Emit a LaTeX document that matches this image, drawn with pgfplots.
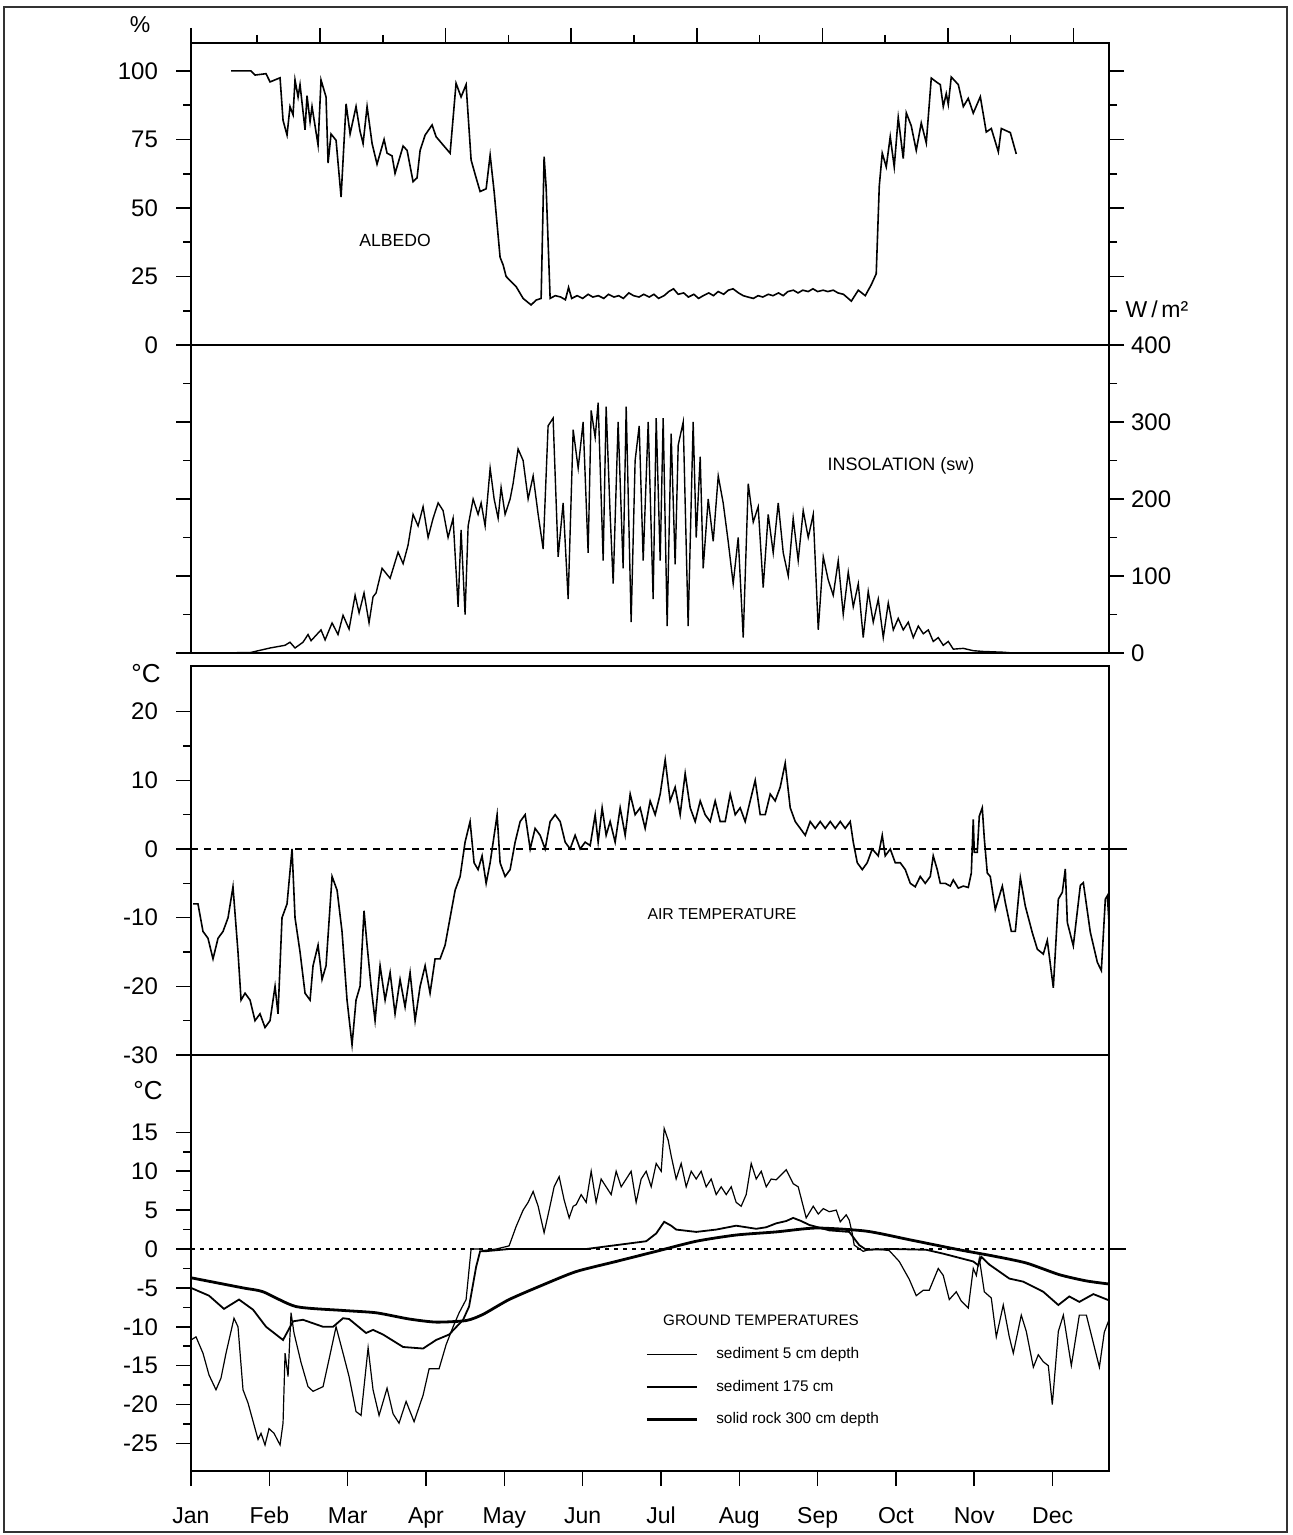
\documentclass[border=0pt]{standalone}
\usepackage{pgfplots}
\pgfplotsset{compat=1.18}
\usepackage{fontspec}
\setmainfont{Liberation Sans}
\def\u{0.5pt}
\pgfplotsset{
  panel/.style={
    scale only axis, width=459pt, xmin=0, xmax=11.72, anchor=north west,
    axis line style={line width=1pt}, clip=false,
    tick style={line width=0.8pt, black}, tick align=outside,
    major tick length=7.5pt, minor tick length=4pt,
    /pgf/number format/assume math mode=true,
    ticklabel style={font=\fontsize{12}{14}\selectfont},
  },
  leftlab/.style={yticklabel style={xshift=-5.5pt}},
}
\begin{document}
\begin{tikzpicture}
\path[use as bounding box] (0,0) rectangle (1292*\u,-1535*\u);
\draw[line width=0.8pt, black!80] (4*\u,-7*\u) rectangle (1287*\u,-1532*\u);

% ---------------- Panel 1: Albedo
\begin{axis}[panel, leftlab, at={(191*\u,-43*\u)}, height=151pt, ymin=0, ymax=110.2,
  xtick={0,1.648,3.251,4.854,6.457,8.060,9.663,11.266},
  minor xtick={0.846,2.449,4.052,5.655,7.258,8.861,10.464},
  xtick pos=right, xticklabels={},
  ytick={0,25,50,75,100}, minor y tick num=1, ytick pos=both, yticklabel pos=left]
\addplot[line width=0.8pt, black] coordinates {
(0.511,100)(0.766,100)(0.817,98.5)(0.958,99)(1.009,96)(1.137,97.5)(1.175,82)(1.226,76.6)
(1.264,87)(1.303,84)(1.328,96.7)(1.367,90.5)(1.392,95)(1.456,78.5)(1.481,91)(1.520,81.5)
(1.545,87)(1.622,73)(1.660,96.7)(1.724,90.5)(1.750,66.4)(1.788,77)(1.852,74.7)(1.916,54)
(1.980,88)(2.031,77)(2.107,87)(2.158,78)(2.197,73.5)(2.248,87)(2.312,73.5)(2.375,66)
(2.465,75)(2.503,70)(2.567,69)(2.605,62.6)(2.708,72.6)(2.759,71)(2.835,59.6)(2.886,61)
(2.925,71)(2.989,76.6)(3.078,80.3)(3.129,76)(3.218,73)(3.308,70)(3.384,95.5)(3.448,90.5)
(3.512,95)(3.576,67.5)(3.640,61)(3.691,56)(3.768,57)(3.819,69.3)(3.870,56)(3.946,32)
(3.985,29.2)(4.023,25)(4.151,21.3)(4.240,17)(4.342,14.6)(4.406,16.4)(4.470,17)(4.508,68.7)
(4.534,57.5)(4.585,17)(4.65,18)(4.72,17.5)(4.78,16.5)(4.82,21)(4.86,17)(4.93,18)(5.0,17)
(5.07,18.5)(5.13,17.5)(5.2,18)(5.27,17)(5.33,18.5)(5.4,17.5)(5.46,18)(5.52,17)(5.59,19)
(5.65,18)(5.72,17.5)(5.78,18.5)(5.85,17.5)(5.91,18.5)(5.97,17)(6.04,18)(6.1,19.5)(6.16,20.5)
(6.22,18.5)(6.29,19)(6.35,17.5)(6.42,18.5)(6.48,17)(6.54,18)(6.61,19)(6.67,18)(6.73,19.5)
(6.8,18.5)(6.86,20)(6.92,20.5)(6.99,19)(7.05,18)(7.11,17.5)(7.18,17)(7.24,18)(7.3,17.5)
(7.37,18.5)(7.43,18)(7.5,19)(7.56,18)(7.62,19.5)(7.69,20)(7.75,19)(7.81,20)(7.88,19.5)
(7.94,20.5)(8.0,19.5)(8.07,20)(8.13,19.5)(8.2,20)(8.26,19)(8.33,18.5)(8.39,17)(8.43,16)
(8.519,20)(8.608,18)(8.685,22)(8.748,26)(8.787,58)(8.825,70)(8.876,65)(8.927,76)(8.978,65)
(9.029,83)(9.093,68)(9.132,84.7)(9.195,80)(9.259,71)(9.323,81)(9.387,73.7)(9.451,97.4)
(9.515,96)(9.566,95)(9.604,87)(9.642,91.7)(9.668,87.8)(9.706,97.8)(9.796,95)(9.860,87)
(9.923,90)(9.987,84.6)(10.077,90.6)(10.153,77.7)(10.217,79)(10.307,70.5)(10.345,79)
(10.460,77.5)(10.536,69.7)};
\end{axis}

% ---------------- Panel 2: Insolation
\begin{axis}[panel, at={(191*\u,-345*\u)}, height=154pt, ymin=0, ymax=400,
  xtick=\empty, ytick={0,100,200,300,400}, minor y tick num=1,
  ytick pos=both, yticklabel pos=right]
\addplot[line width=0.7pt, black] coordinates {
(0,0)(0.754,0.5)(1.009,6.5)(1.200,10)(1.264,14)(1.328,6.5)(1.430,14)(1.494,24)(1.533,16)
(1.660,30)(1.712,17)(1.801,39)(1.877,24)(1.941,49)(2.018,31)(2.095,75)(2.146,52)(2.209,78)
(2.273,39)(2.324,73)(2.363,78)(2.439,110)(2.542,97)(2.644,131)(2.708,116)(2.771,140)
(2.835,180)(2.899,165)(2.963,190)(3.027,150)(3.091,175)(3.155,195)(3.218,185)(3.282,150)
(3.346,175)(3.410,60)(3.448,160)(3.499,50)(3.538,165)(3.602,200)(3.665,180)(3.704,195)
(3.755,165)(3.819,240)(3.870,200)(3.921,175)(3.959,215)(4.010,180)(4.074,200)(4.112,220)
(4.176,265)(4.240,250)(4.304,200)(4.368,230)(4.432,180)(4.496,135)(4.559,295)(4.623,305)
(4.687,125)(4.751,195)(4.815,70)(4.879,290)(4.943,240)(5.006,300)(5.070,130)(5.109,315)
(5.160,280)(5.198,325)(5.262,120)(5.300,320)(5.351,180)(5.390,90)(5.453,300)(5.517,110)
(5.556,320)(5.619,40)(5.670,250)(5.722,295)(5.773,120)(5.837,300)(5.900,70)(5.939,305)
(5.990,120)(6.028,305)(6.079,35)(6.130,285)(6.181,115)(6.220,270)(6.284,300)(6.347,35)
(6.411,300)(6.450,150)(6.501,255)(6.539,110)(6.603,200)(6.667,145)(6.731,230)(6.794,195)
(6.858,145)(6.922,90)(6.986,150)(7.050,20)(7.114,220)(7.178,170)(7.241,190)(7.305,85)
(7.369,180)(7.433,130)(7.497,195)(7.561,130)(7.625,100)(7.688,175)(7.752,120)(7.816,185)
(7.880,150)(7.944,180)(8.008,30)(8.072,125)(8.135,95)(8.199,75)(8.263,120)(8.327,50)
(8.391,105)(8.455,60)(8.519,90)(8.582,20)(8.646,80)(8.710,40)(8.774,70)(8.838,20)
(8.902,65)(8.966,30)(9.029,45)(9.093,30)(9.157,40)(9.221,20)(9.285,35)(9.349,25)
(9.413,30)(9.476,15)(9.540,20)(9.604,10)(9.668,15)(9.732,5)(9.860,6)(9.987,3)(10.115,2)
(10.370,1)(10.498,0)(11.72,0)};
\end{axis}

% ---------------- Panel 3: Air temperature
\begin{axis}[panel, leftlab, at={(191*\u,-666*\u)}, height=194.5pt, ymin=-30, ymax=26.65,
  xtick=\empty, ytick={-30,-20,-10,0,10,20}, minor y tick num=1, ytick pos=left]
\addplot[forget plot, line width=0.6pt, dash pattern=on 3.5pt off 3pt] coordinates {(0,0)(11.72,0)};
\addplot[forget plot, line width=0.8pt] coordinates {(11.72,0)(11.95,0)};
\addplot[line width=0.8pt, black] coordinates {
(0.026,-8)(0.089,-8)(0.153,-12)(0.217,-13)(0.281,-16)(0.345,-13)(0.409,-12)(0.473,-10)
(0.536,-5.5)(0.600,-15)(0.639,-22)(0.690,-21)(0.754,-22)(0.817,-25)(0.881,-24)(0.945,-26)
(1.009,-25)(1.073,-20)(1.111,-24)(1.162,-10)(1.226,-8)(1.290,0)(1.328,-10)(1.392,-15)
(1.456,-21)(1.520,-22)(1.558,-17)(1.622,-14)(1.673,-19)(1.724,-17)(1.801,-4)(1.865,-6)
(1.928,-12)(1.992,-22)(2.056,-28.5)(2.107,-22)(2.158,-20)(2.209,-9)(2.248,-14)(2.299,-20)
(2.350,-25)(2.414,-17)(2.478,-22)(2.542,-18)(2.605,-24)(2.669,-19)(2.733,-23)(2.797,-18)
(2.861,-25)(2.925,-20)(2.989,-17)(3.052,-21)(3.116,-16)(3.180,-16)(3.244,-14)(3.308,-10)
(3.372,-6)(3.436,-4)(3.499,1)(3.563,4)(3.614,-2)(3.665,-3)(3.716,-1)(3.768,-5)(3.819,-2)
(3.883,3)(3.908,5)(3.946,-2)(4.010,-4)(4.074,-3)(4.138,1)(4.202,4)(4.266,5)(4.330,0)
(4.393,3)(4.457,2)(4.521,0)(4.585,4)(4.649,5)(4.713,4)(4.777,1)(4.840,0)(4.904,2)(4.968,0)
(5.032,1)(5.096,0.5)(5.160,5)(5.198,1)(5.249,6)(5.300,2)(5.351,4)(5.415,1)(5.479,6)
(5.543,2)(5.607,8)(5.670,5)(5.734,6)(5.798,3)(5.862,7)(5.926,5)(5.990,8)(6.054,13)
(6.117,7)(6.181,9)(6.245,5)(6.309,11)(6.373,6)(6.437,4)(6.501,7)(6.564,5)(6.628,4)
(6.692,7)(6.756,4)(6.820,4)(6.884,8)(6.948,5)(7.011,6)(7.075,4)(7.139,7)(7.203,10)
(7.267,5)(7.331,5)(7.395,8)(7.458,7)(7.522,9)(7.586,12.5)(7.650,6)(7.714,4)(7.778,3)
(7.842,2)(7.905,4)(7.969,3)(8.033,4)(8.097,3)(8.161,4)(8.225,3)(8.289,4)(8.352,3)(8.416,4)
(8.455,1)(8.506,-2)(8.570,-3)(8.633,-2)(8.697,0)(8.774,-1)(8.825,2)(8.863,-1)(8.927,0)
(8.991,-2)(9.055,-2)(9.119,-3)(9.183,-5)(9.246,-5.5)(9.310,-4)(9.374,-5)(9.438,-4)
(9.476,-1)(9.527,-3)(9.566,-5)(9.630,-5)(9.693,-5.4)(9.732,-4.5)(9.796,-5.7)(9.860,-5.4)
(9.923,-5.6)(9.962,-3.5)(9.987,4.3)(10.000,-0.5)(10.038,-0.5)(10.064,4.8)(10.102,6)
(10.128,1.5)(10.166,-3.5)(10.204,-4)(10.268,-8.8)(10.358,-5.4)(10.396,-7.8)(10.473,-12)
(10.524,-12)(10.588,-4.2)(10.651,-8.3)(10.741,-12.2)(10.805,-14.6)(10.881,-15.3)
(10.932,-13.3)(11.009,-20.2)(11.073,-7.3)(11.124,-6.3)(11.162,-2.9)(11.188,-10.7)
(11.264,-14.1)(11.354,-5.3)(11.392,-4.9)(11.481,-12.1)(11.571,-16.5)(11.622,-17.7)
(11.673,-7.3)(11.699,-6.8)(11.72,-10.7)};
\end{axis}

% ---------------- Panel 4: Ground temperatures
\begin{axis}[panel, leftlab, at={(191*\u,-1055*\u)}, height=208pt, ymin=-28.55, ymax=24.95,
  xtick={0,1,...,11}, xticklabels={Jan,Feb,Mar,Apr,May,Jun,Jul,Aug,Sep,Oct,Nov,Dec},
  xtick pos=left,
  xticklabel style={font=\fontsize{11.5}{13}\selectfont, text height=8.5pt, text depth=2.5pt, yshift=-6.5pt},
  ytick={-25,-20,-15,-10,-5,0,5,10,15}, minor y tick num=1, ytick pos=left,
  legend style={draw=none, fill=none, at={(0.4946,0.308)}, anchor=north west,
    font=\fontsize{7.7}{9.2}\selectfont, row sep=5.3pt, inner sep=0pt,
    /tikz/every odd column/.append style={column sep=7pt}},
  legend cell align=left,
  legend image code/.code={\draw[#1] (0pt,0pt) -- (25pt,0pt);}]
\addplot[forget plot, line width=0.6pt, dash pattern=on 2pt off 2.5pt] coordinates {(0,0)(11.72,0)};
\addplot[forget plot, line width=0.8pt] coordinates {(11.72,0)(11.94,0)};
\addplot[line width=0.6pt, black] coordinates {
(0,-11.7)(0.064,-11.3)(0.153,-13.4)(0.230,-16.2)(0.319,-18.1)(0.383,-16.6)(0.447,-13.4)
(0.549,-8.9)(0.600,-10)(0.664,-18.1)(0.728,-19.8)(0.856,-24.5)(0.894,-23.7)(0.945,-25.2)
(0.996,-23.1)(1.060,-23.7)(1.137,-25.2)(1.175,-22.4)(1.201,-13.4)(1.239,-16.4)(1.277,-8.2)
(1.315,-10.8)(1.405,-14.6)(1.494,-17.7)(1.558,-18.3)(1.686,-17.7)(1.762,-14.2)(1.852,-10)
(1.941,-13.4)(2.018,-16.4)(2.107,-20.9)(2.171,-21.4)(2.261,-12.7)(2.324,-18.1)(2.401,-21.4)
(2.503,-17.9)(2.580,-21.2)(2.656,-22.4)(2.746,-19.6)(2.848,-22.2)(2.963,-18.8)(3.040,-15.4)
(3.167,-15.4)(3.257,-12.3)(3.346,-10)(3.423,-8.2)(3.512,-6.5)(3.576,0)(3.704,0)(3.729,-0.2)
(3.895,0)(4.061,0.4)(4.151,2.9)(4.240,5)(4.304,6)(4.368,7.4)(4.432,5.5)(4.508,2.1)(4.572,5)
(4.636,8)(4.700,9.3)(4.764,6.3)(4.828,4)(4.879,5.5)(4.917,5.7)(4.981,7)(5.045,6)(5.109,10)
(5.172,6)(5.236,9)(5.300,8)(5.364,7)(5.428,10)(5.492,8)(5.556,9)(5.619,10)(5.683,6)
(5.747,9)(5.811,10)(5.875,8)(5.939,11)(6.003,10)(6.041,15.5)(6.092,14)(6.130,12)(6.194,9)
(6.258,11)(6.322,8)(6.386,10)(6.450,9)(6.513,10)(6.577,8)(6.641,9)(6.705,7)(6.769,8)
(6.833,7)(6.897,8)(6.960,6)(7.024,5.5)(7.088,7)(7.152,11)(7.216,9)(7.280,10)(7.344,8)
(7.407,9)(7.471,8.9)(7.599,10.2)(7.688,8.4)(7.752,8)(7.854,4)(7.944,5.5)(8.008,4.5)
(8.072,5.2)(8.148,4.8)(8.238,5)(8.289,3.5)(8.365,4.4)(8.404,3.7)(8.442,2)(8.467,0.5)
(8.582,-0.3)(8.646,-0.1)(8.748,0)(8.914,-0.2)(9.042,-1.6)(9.170,-3.9)(9.259,-6)(9.349,-5.3)
(9.425,-5.3)(9.540,-2.5)(9.604,-3.4)(9.681,-6.5)(9.770,-5.5)(9.834,-6.7)(9.923,-7.6)
(9.987,-2.5)(10.026,-3.4)(10.064,-1.2)(10.128,-5.5)(10.217,-6.3)(10.281,-11.3)(10.370,-7.2)
(10.447,-11.3)(10.498,-13.4)(10.600,-8.5)(10.664,-10.6)(10.754,-15.2)(10.817,-13.6)
(10.881,-14.5)(10.945,-15)(10.996,-20)(11.073,-10.6)(11.137,-8.5)(11.239,-15)(11.341,-8.5)
(11.431,-8.5)(11.597,-15.2)(11.660,-10.7)(11.72,-9.1)};
\addlegendentry{sediment 5 cm depth}
\addplot[line width=0.9pt, black] coordinates {
(0,-5)(0.230,-6)(0.421,-7.7)(0.613,-6.5)(0.792,-7.8)(0.958,-10)(1.175,-11.7)(1.303,-9.3)
(1.430,-9.1)(1.686,-10)(1.814,-10)(1.941,-8.9)(2.018,-9)(2.235,-10.8)(2.324,-10.4)
(2.452,-11)(2.708,-12.6)(2.963,-12.8)(3.129,-11.7)(3.295,-11)(3.474,-9.1)(3.550,-7.4)
(3.640,-2.3)(3.691,-0.3)(3.742,-0.3)(4.061,0)(4.534,0)(5.045,0)(5.428,0.5)(5.811,1)
(5.939,2)(6.041,3.5)(6.130,3)(6.194,2.5)(6.450,2.2)(6.705,2.5)(6.960,3)(7.088,2.8)
(7.216,2.6)(7.344,2.8)(7.471,3.3)(7.599,3.6)(7.688,4)(7.790,3.6)(7.893,3.1)(8.148,2.4)
(8.404,2.2)(8.531,0.5)(8.621,-0.1)(8.966,0)(9.387,-0.1)(9.604,-0.6)(9.987,-1.6)
(10.051,-2.1)(10.089,-1)(10.192,-2)(10.447,-3.8)(10.626,-4.2)(10.881,-5.5)(11.073,-7.2)
(11.213,-6.1)(11.341,-6.8)(11.520,-5.8)(11.72,-6.6)};
\addlegendentry{sediment 175 cm}
\addplot[line width=1.4pt, black, smooth, tension=0.4] coordinates {
(0,-3.7)(0.664,-5)(0.920,-5.5)(1.341,-7.4)(1.941,-7.9)(2.363,-8.2)(2.784,-9)(3.129,-9.4)
(3.512,-9.2)(3.729,-8.4)(4.061,-6.5)(4.496,-4.6)(4.917,-2.9)(5.428,-1.6)(5.939,-0.3)
(6.450,1.0)(6.960,1.8)(7.471,2.2)(7.982,2.7)(8.621,2.3)(9.170,1.2)(9.808,-0.1)(10.243,-0.9)
(10.664,-1.8)(11.086,-3.3)(11.430,-4.1)(11.72,-4.5)};
\addlegendentry{solid rock 300 cm depth}
\end{axis}

% ---------------- Texts
\node[font=\fontsize{11.5}{13}\selectfont] at (140*\u,-25*\u) {\%};
\node[font=\fontsize{11.5}{13}\selectfont] at (1157*\u,-309*\u) {W\,/\,m²};
\node[font=\fontsize{13}{15}\selectfont] at (146*\u,-674*\u) {°C};
\node[font=\fontsize{13}{15}\selectfont] at (148*\u,-1091*\u) {°C};
\node[font=\fontsize{8.8}{10}\selectfont] at (395*\u,-240*\u) {ALBEDO};
\node[font=\fontsize{9}{10}\selectfont] at (901*\u,-466*\u) {INSOLATION (sw)};
\node[font=\fontsize{7.9}{9}\selectfont] at (722*\u,-914*\u) {AIR TEMPERATURE};
\node[font=\fontsize{7.6}{9}\selectfont] at (761*\u,-1320*\u) {GROUND TEMPERATURES};
\end{tikzpicture}
\end{document}
